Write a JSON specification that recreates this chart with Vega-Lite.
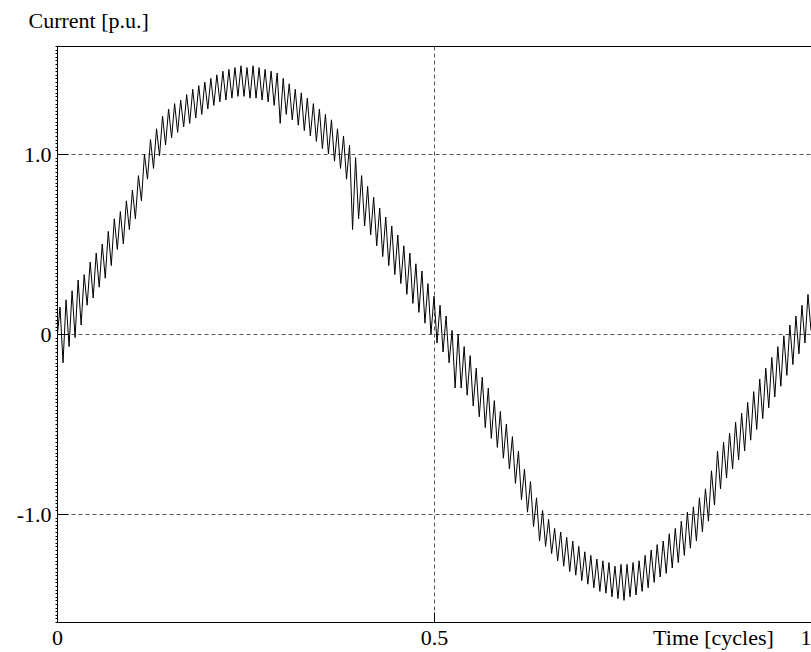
{
  "$schema": "https://vega.github.io/schema/vega-lite/v6.json",
  "width": 754,
  "height": 576,
  "autosize": {"type": "none"},
  "padding": {"left": 57, "top": 46, "right": 0, "bottom": 30},
  "background": "white",
  "config": {
    "view": {"stroke": null},
    "font": "Liberation Serif"
  },
  "data": {"values": [
    {"t":0,"i":-0.03},{"t":0.004,"i":0.15},{"t":0.008,"i":-0.16},{"t":0.012,"i":0.19},{"t":0.016,"i":-0.07},
    {"t":0.02,"i":0.24},{"t":0.024,"i":-0.02},{"t":0.028,"i":0.30},{"t":0.032,"i":0.05},{"t":0.036,"i":0.33},
    {"t":0.04,"i":0.16},{"t":0.044,"i":0.40},{"t":0.048,"i":0.20},{"t":0.052,"i":0.45},{"t":0.056,"i":0.26},
    {"t":0.06,"i":0.50},{"t":0.064,"i":0.31},{"t":0.068,"i":0.57},{"t":0.072,"i":0.38},{"t":0.076,"i":0.64},
    {"t":0.08,"i":0.47},{"t":0.084,"i":0.68},{"t":0.088,"i":0.50},{"t":0.092,"i":0.74},{"t":0.096,"i":0.58},
    {"t":0.1,"i":0.80},{"t":0.104,"i":0.64},{"t":0.108,"i":0.88},{"t":0.112,"i":0.74},{"t":0.116,"i":1.00},
    {"t":0.12,"i":0.86},{"t":0.124,"i":1.08},{"t":0.128,"i":0.92},{"t":0.132,"i":1.14},{"t":0.136,"i":0.99},
    {"t":0.14,"i":1.21},{"t":0.144,"i":1.05},{"t":0.148,"i":1.25},{"t":0.152,"i":1.09},{"t":0.156,"i":1.28},
    {"t":0.16,"i":1.12},{"t":0.164,"i":1.30},{"t":0.168,"i":1.15},{"t":0.172,"i":1.33},{"t":0.176,"i":1.17},
    {"t":0.18,"i":1.36},{"t":0.184,"i":1.20},{"t":0.188,"i":1.38},{"t":0.192,"i":1.22},{"t":0.196,"i":1.40},
    {"t":0.2,"i":1.25},{"t":0.204,"i":1.42},{"t":0.208,"i":1.27},{"t":0.212,"i":1.44},{"t":0.216,"i":1.29},
    {"t":0.22,"i":1.46},{"t":0.224,"i":1.30},{"t":0.228,"i":1.47},{"t":0.232,"i":1.31},{"t":0.236,"i":1.48},
    {"t":0.24,"i":1.32},{"t":0.244,"i":1.49},{"t":0.248,"i":1.32},{"t":0.252,"i":1.48},{"t":0.256,"i":1.31},
    {"t":0.26,"i":1.49},{"t":0.264,"i":1.31},{"t":0.268,"i":1.48},{"t":0.272,"i":1.30},{"t":0.276,"i":1.47},
    {"t":0.28,"i":1.29},{"t":0.284,"i":1.46},{"t":0.288,"i":1.27},{"t":0.292,"i":1.45},{"t":0.296,"i":1.17},
    {"t":0.3,"i":1.42},{"t":0.304,"i":1.22},{"t":0.308,"i":1.39},{"t":0.312,"i":1.19},{"t":0.316,"i":1.36},
    {"t":0.32,"i":1.16},{"t":0.324,"i":1.34},{"t":0.328,"i":1.13},{"t":0.332,"i":1.31},{"t":0.336,"i":1.10},
    {"t":0.34,"i":1.28},{"t":0.344,"i":1.07},{"t":0.348,"i":1.25},{"t":0.352,"i":1.03},{"t":0.356,"i":1.22},
    {"t":0.36,"i":1.00},{"t":0.364,"i":1.19},{"t":0.368,"i":0.96},{"t":0.372,"i":1.14},{"t":0.376,"i":0.92},
    {"t":0.38,"i":1.10},{"t":0.384,"i":0.86},{"t":0.388,"i":1.05},{"t":0.392,"i":0.58},{"t":0.396,"i":0.98},
    {"t":0.4,"i":0.64},{"t":0.404,"i":0.88},{"t":0.408,"i":0.60},{"t":0.412,"i":0.82},{"t":0.416,"i":0.55},
    {"t":0.42,"i":0.76},{"t":0.424,"i":0.49},{"t":0.428,"i":0.70},{"t":0.432,"i":0.43},{"t":0.436,"i":0.65},
    {"t":0.44,"i":0.38},{"t":0.444,"i":0.60},{"t":0.448,"i":0.33},{"t":0.452,"i":0.55},{"t":0.456,"i":0.28},
    {"t":0.46,"i":0.49},{"t":0.464,"i":0.22},{"t":0.468,"i":0.45},{"t":0.472,"i":0.17},{"t":0.476,"i":0.39},
    {"t":0.48,"i":0.12},{"t":0.484,"i":0.35},{"t":0.488,"i":0.06},{"t":0.492,"i":0.28},{"t":0.496,"i":0.00},
    {"t":0.5,"i":0.21},{"t":0.504,"i":-0.05},{"t":0.508,"i":0.16},{"t":0.512,"i":-0.10},{"t":0.516,"i":0.10},
    {"t":0.52,"i":-0.16},{"t":0.524,"i":0.02},{"t":0.528,"i":-0.30},{"t":0.532,"i":0.00},{"t":0.536,"i":-0.30},
    {"t":0.54,"i":-0.07},{"t":0.544,"i":-0.34},{"t":0.548,"i":-0.12},{"t":0.552,"i":-0.40},{"t":0.556,"i":-0.19},
    {"t":0.56,"i":-0.46},{"t":0.564,"i":-0.24},{"t":0.568,"i":-0.52},{"t":0.572,"i":-0.30},{"t":0.576,"i":-0.58},
    {"t":0.58,"i":-0.37},{"t":0.584,"i":-0.63},{"t":0.588,"i":-0.43},{"t":0.592,"i":-0.69},{"t":0.596,"i":-0.50},
    {"t":0.6,"i":-0.75},{"t":0.604,"i":-0.57},{"t":0.608,"i":-0.83},{"t":0.612,"i":-0.65},{"t":0.616,"i":-0.92},
    {"t":0.62,"i":-0.75},{"t":0.624,"i":-0.99},{"t":0.628,"i":-0.82},{"t":0.632,"i":-1.07},{"t":0.636,"i":-0.91},
    {"t":0.64,"i":-1.15},{"t":0.644,"i":-0.98},{"t":0.648,"i":-1.18},{"t":0.652,"i":-1.03},{"t":0.656,"i":-1.22},
    {"t":0.66,"i":-1.08},{"t":0.664,"i":-1.26},{"t":0.668,"i":-1.10},{"t":0.672,"i":-1.29},{"t":0.676,"i":-1.13},
    {"t":0.68,"i":-1.32},{"t":0.684,"i":-1.15},{"t":0.688,"i":-1.34},{"t":0.692,"i":-1.18},{"t":0.696,"i":-1.37},
    {"t":0.7,"i":-1.21},{"t":0.704,"i":-1.39},{"t":0.708,"i":-1.23},{"t":0.712,"i":-1.41},{"t":0.716,"i":-1.25},
    {"t":0.72,"i":-1.43},{"t":0.724,"i":-1.26},{"t":0.728,"i":-1.44},{"t":0.732,"i":-1.27},{"t":0.736,"i":-1.46},
    {"t":0.74,"i":-1.29},{"t":0.744,"i":-1.47},{"t":0.748,"i":-1.28},{"t":0.752,"i":-1.48},{"t":0.756,"i":-1.28},
    {"t":0.76,"i":-1.46},{"t":0.764,"i":-1.27},{"t":0.768,"i":-1.45},{"t":0.772,"i":-1.26},{"t":0.776,"i":-1.43},
    {"t":0.78,"i":-1.23},{"t":0.784,"i":-1.41},{"t":0.788,"i":-1.20},{"t":0.792,"i":-1.38},{"t":0.796,"i":-1.17},
    {"t":0.8,"i":-1.35},{"t":0.804,"i":-1.15},{"t":0.808,"i":-1.33},{"t":0.812,"i":-1.11},{"t":0.816,"i":-1.30},
    {"t":0.82,"i":-1.08},{"t":0.824,"i":-1.27},{"t":0.828,"i":-1.04},{"t":0.832,"i":-1.23},{"t":0.836,"i":-0.99},
    {"t":0.84,"i":-1.19},{"t":0.844,"i":-0.96},{"t":0.848,"i":-1.15},{"t":0.852,"i":-0.91},{"t":0.856,"i":-1.10},
    {"t":0.86,"i":-0.86},{"t":0.864,"i":-1.04},{"t":0.868,"i":-0.76},{"t":0.872,"i":-0.95},{"t":0.876,"i":-0.65},
    {"t":0.88,"i":-0.86},{"t":0.884,"i":-0.60},{"t":0.888,"i":-0.80},{"t":0.892,"i":-0.55},{"t":0.896,"i":-0.75},
    {"t":0.9,"i":-0.49},{"t":0.904,"i":-0.70},{"t":0.908,"i":-0.44},{"t":0.912,"i":-0.65},{"t":0.916,"i":-0.38},
    {"t":0.92,"i":-0.59},{"t":0.924,"i":-0.32},{"t":0.928,"i":-0.53},{"t":0.932,"i":-0.25},{"t":0.936,"i":-0.47},
    {"t":0.94,"i":-0.19},{"t":0.944,"i":-0.41},{"t":0.948,"i":-0.13},{"t":0.952,"i":-0.35},{"t":0.956,"i":-0.07},
    {"t":0.96,"i":-0.29},{"t":0.964,"i":-0.01},{"t":0.968,"i":-0.23},{"t":0.972,"i":0.05},{"t":0.976,"i":-0.17},
    {"t":0.98,"i":0.10},{"t":0.984,"i":-0.11},{"t":0.988,"i":0.16},{"t":0.992,"i":-0.05},{"t":0.996,"i":0.22},
    {"t":1,"i":0.02}
  ]},
  "mark": {"type": "line", "color": "black", "strokeWidth": 1, "clip": true},
  "encoding": {
    "x": {
      "field": "t", "type": "quantitative",
      "scale": {"domain": [0, 1], "nice": false, "zero": false},
      "axis": {
        "values": [0, 0.5, 1],
        "title": "Time [cycles]",
        "titleFont": "Liberation Serif", "titleFontSize": 22, "titleFontWeight": "normal", "titleColor": "black",
        "titleX": 656, "titleY": 22, "titleAlign": "center", "titleBaseline": "alphabetic", "titleAnchor": null,
        "labelFont": "Liberation Serif", "labelFontSize": 22, "labelColor": "black",
        "labelExpr": "datum.value == 0 ? '0' : datum.value == 1 ? '1' : '0.5'",
        "labelBaseline": "alphabetic",
        "labelAlign": {"condition": {"test": "datum.value == 1", "value": "right"}, "value": "center"},
        "labelPadding": 32, "labelFlush": false, "labelOverlap": false,
        "tickSize": -10, "tickColor": "black", "tickWidth": 1,
        "domainColor": "black", "domainWidth": 1,
        "grid": true, "gridColor": "#555", "gridDash": [4, 3], "gridWidth": 1,
        "gridOpacity": {"condition": {"test": "datum.value == 0.5", "value": 1}, "value": 0}
      }
    },
    "y": {
      "field": "i", "type": "quantitative",
      "scale": {"domain": [-1.6, 1.6], "nice": false, "zero": false},
      "axis": {
        "tickCount": 160,
        "title": "Current [p.u.]",
        "titleFont": "Liberation Serif", "titleFontSize": 22, "titleFontWeight": "normal", "titleColor": "black",
        "titleAngle": 0, "titleX": -29, "titleY": -19, "titleAlign": "left", "titleBaseline": "alphabetic", "titleAnchor": null,
        "labelFont": "Liberation Serif", "labelFontSize": 22, "labelColor": "black",
        "labelExpr": "abs(datum.value - 1) < 1e-6 ? '1.0' : abs(datum.value + 1) < 1e-6 ? '-1.0' : abs(datum.value) < 1e-6 ? '0' : ''",
        "labelBaseline": "middle", "labelAlign": "right",
        "labelPadding": 17, "labelFlush": false, "labelOverlap": false,
        "tickSize": {"condition": {"test": "abs(datum.value) < 1e-6 || abs(abs(datum.value) - 1) < 1e-6", "value": -11}, "value": 2},
        "tickColor": "black", "tickWidth": 1,
        "domainColor": "black", "domainWidth": 1,
        "grid": true, "gridWidth": 1,
        "gridColor": {"condition": {"test": "abs(datum.value - 1.6) < 1e-6", "value": "black"}, "value": "#555"},
        "gridDash": {"condition": {"test": "abs(datum.value - 1.6) < 1e-6", "value": []}, "value": [4, 3]},
        "gridOpacity": {"condition": {"test": "abs(datum.value) < 1e-6 || abs(abs(datum.value) - 1) < 1e-6 || abs(datum.value - 1.6) < 1e-6", "value": 1}, "value": 0}
      }
    }
  }
}
